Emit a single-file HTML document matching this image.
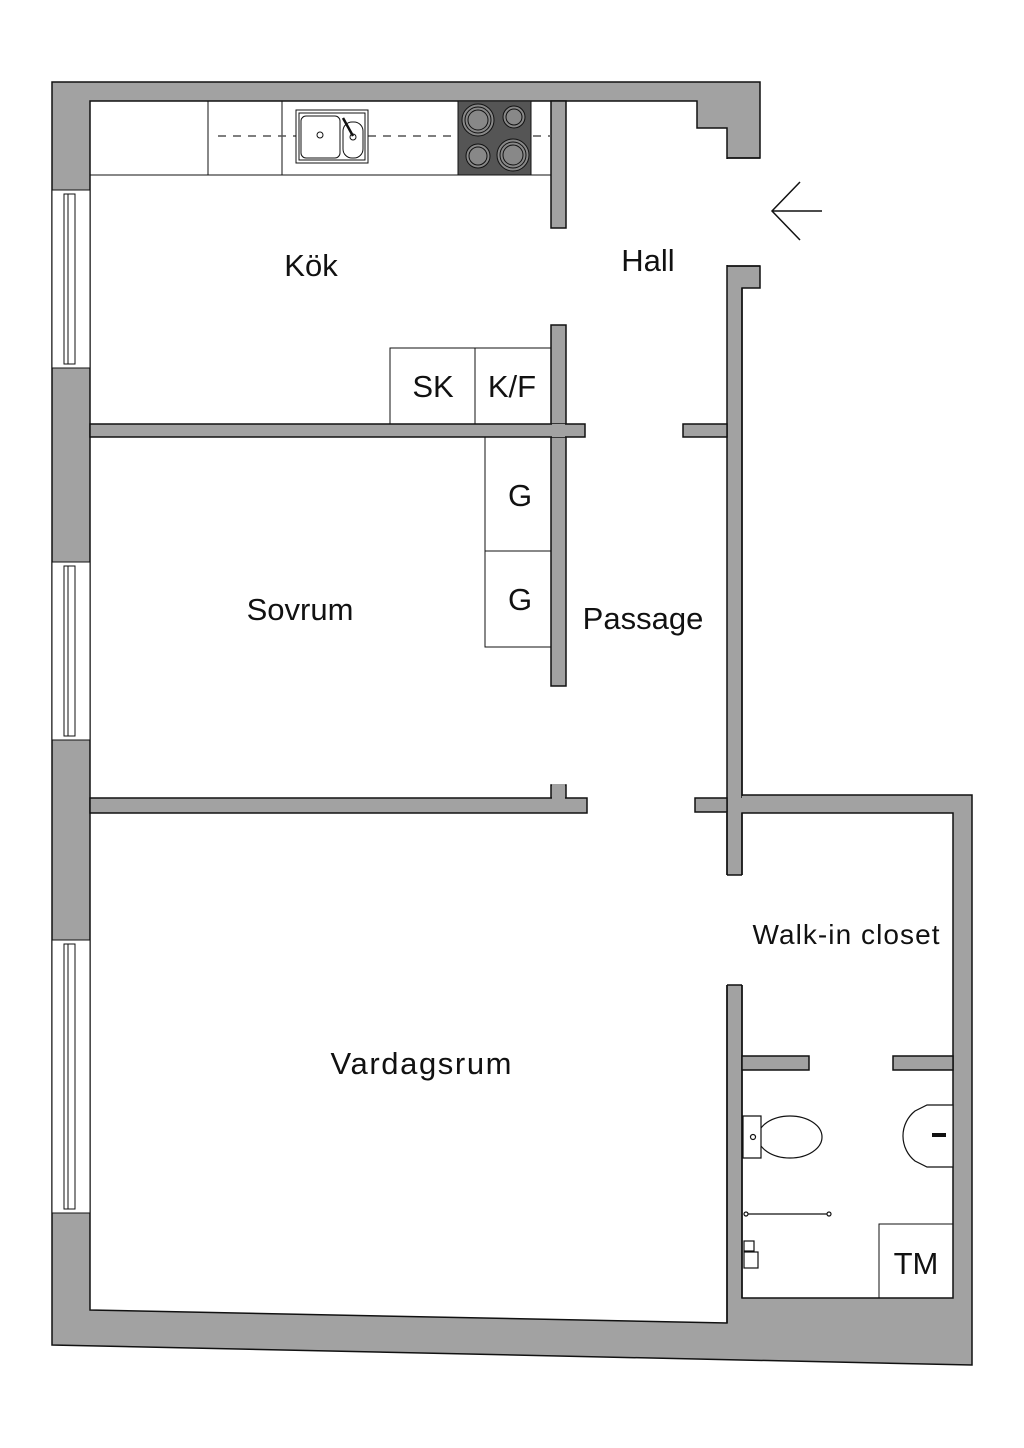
<!DOCTYPE html>
<html><head><meta charset="utf-8"><style>
html,body{margin:0;padding:0;background:#fff;}
svg{display:block;}
text{font-family:"Liberation Sans",sans-serif;fill:#111;}
</style></head><body>
<svg width="1024" height="1448" viewBox="0 0 1024 1448" xmlns="http://www.w3.org/2000/svg">
<g stroke="#111" stroke-width="1.5">
<polygon fill="#a2a2a2" points="52,82 760,82 760,158 727,158 727,266 760,266 760,288 742,288 742,795 972,795 972,1365 52,1345"/>
<polygon fill="#fff" points="90,101 697,101 697,128 727,128 727,1323 90,1310"/>
<rect x="742" y="813" width="211" height="485" fill="#fff"/>
</g>
<rect x="726" y="159" width="35" height="106" fill="#fff"/>
<line x1="727" y1="158" x2="760" y2="158" stroke="#111" stroke-width="1.5"/>
<line x1="727" y1="266" x2="760" y2="266" stroke="#111" stroke-width="1.5"/>
<rect x="726" y="875" width="17" height="110" fill="#fff"/>
<g stroke="#111" stroke-width="1.5">
<line x1="727" y1="875" x2="742" y2="875"/>
<line x1="727" y1="985" x2="742" y2="985"/>
<line x1="727" y1="813" x2="727" y2="875"/>
<line x1="742" y1="813" x2="742" y2="875"/>
<line x1="742" y1="985" x2="742" y2="1298"/>
<line x1="727" y1="985" x2="727" y2="1323"/>
<line x1="742" y1="288" x2="742" y2="798"/>
</g>
<g fill="#a2a2a2" stroke="#111" stroke-width="1.5">
<rect x="551" y="101" width="15" height="127"/>
<rect x="551" y="325" width="15" height="361"/>
<rect x="90" y="424" width="495" height="13"/>
<rect x="683" y="424" width="44" height="13"/>
<rect x="551" y="785" width="15" height="15"/>
<rect x="90" y="798" width="497" height="15"/>
<rect x="695" y="798" width="32" height="14"/>
<rect x="742" y="1056" width="67" height="14"/>
<rect x="893" y="1056" width="60" height="14"/>
</g>
<rect x="552" y="424" width="13" height="13" fill="#a2a2a2"/>
<rect x="552" y="784" width="13" height="16" fill="#a2a2a2"/>
<rect x="728" y="796" width="13" height="16" fill="#a2a2a2"/>
<rect x="742" y="796" width="13" height="16" fill="#a2a2a2"/>
<g stroke="#111" stroke-width="1" fill="#fff">
<rect x="52" y="190" width="38" height="178"/>
<rect x="52" y="562" width="38" height="178"/>
<rect x="52" y="940" width="38" height="273"/>
<rect x="64" y="194" width="11" height="170"/>
<rect x="64" y="566" width="11" height="170"/>
<rect x="64" y="944" width="11" height="265"/>
<line x1="68" y1="194" x2="68" y2="364"/>
<line x1="68" y1="566" x2="68" y2="736"/>
<line x1="68" y1="944" x2="68" y2="1209"/>
</g>
<g stroke="#111" stroke-width="1" fill="none">
<line x1="90" y1="175" x2="551" y2="175"/>
<line x1="208" y1="101" x2="208" y2="175"/>
<line x1="282" y1="101" x2="282" y2="175"/>
<line x1="218" y1="136" x2="551" y2="136" stroke="#555" stroke-width="1.5" stroke-dasharray="8,7"/>
<rect x="458" y="101" width="73" height="74" fill="#555"/>
<circle cx="478" cy="120" r="16" fill="#888"/><circle cx="478" cy="120" r="13"/><circle cx="478" cy="120" r="10"/>
<circle cx="514" cy="117" r="11" fill="#888"/><circle cx="514" cy="117" r="8"/>
<circle cx="478" cy="156" r="12" fill="#888"/><circle cx="478" cy="156" r="9"/>
<circle cx="513" cy="155" r="16" fill="#888"/><circle cx="513" cy="155" r="13"/><circle cx="513" cy="155" r="10"/>
<rect x="296" y="110" width="72" height="53" fill="#fff"/>
<rect x="299" y="113" width="66" height="47"/>
<rect x="301" y="116" width="39" height="42" rx="5"/>
<circle cx="320" cy="135" r="3"/>
<rect x="343" y="122" width="20" height="36" rx="9"/>
<circle cx="353" cy="137" r="3"/>
<line x1="343" y1="118" x2="353" y2="136" stroke-width="2.5"/>
</g>
<g stroke="#111" stroke-width="1" fill="none">
<rect x="390" y="348" width="85" height="76"/>
<rect x="475" y="348" width="76" height="76"/>
<rect x="485" y="437" width="66" height="114"/>
<rect x="485" y="551" width="66" height="96"/>
<rect x="879" y="1224" width="74" height="74"/>
</g>
<g stroke="#111" stroke-width="1.5" fill="none">
<line x1="772" y1="211" x2="822" y2="211"/>
<polyline points="800,182 772,211 800,240"/>
</g>
<g stroke="#111" stroke-width="1.2" fill="#fff">
<ellipse cx="790" cy="1137" rx="32" ry="21"/>
<path d="M743,1116 h18 v42 h-18 z"/>
<circle cx="753" cy="1137" r="2.5"/>
<path d="M953,1105 h-26 l-12,6 a32,32 0 0 0 0,50 l12,6 h26 z"/>
<line x1="932" y1="1135" x2="946" y2="1135" stroke-width="4"/>
<line x1="746" y1="1214" x2="829" y2="1214"/>
<circle cx="746" cy="1214" r="2"/><circle cx="829" cy="1214" r="2"/>
<rect x="744" y="1241" width="10" height="10"/>
<rect x="744" y="1252" width="14" height="16"/>
</g>
<g font-size="31">
<text x="311" y="276" text-anchor="middle">Kök</text>
<text x="648" y="271" text-anchor="middle">Hall</text>
<text x="300" y="620" text-anchor="middle">Sovrum</text>
<text x="643" y="629" text-anchor="middle">Passage</text>
<text x="421" y="1074" text-anchor="middle" textLength="181">Vardagsrum</text>
<text x="846" y="944" text-anchor="middle" font-size="28" textLength="187">Walk-in closet</text>
<text x="433" y="397" text-anchor="middle">SK</text>
<text x="512" y="397" text-anchor="middle">K/F</text>
<text x="520" y="506" text-anchor="middle">G</text>
<text x="520" y="610" text-anchor="middle">G</text>
<text x="916" y="1274" text-anchor="middle">TM</text>
</g>
</svg>
</body></html>
